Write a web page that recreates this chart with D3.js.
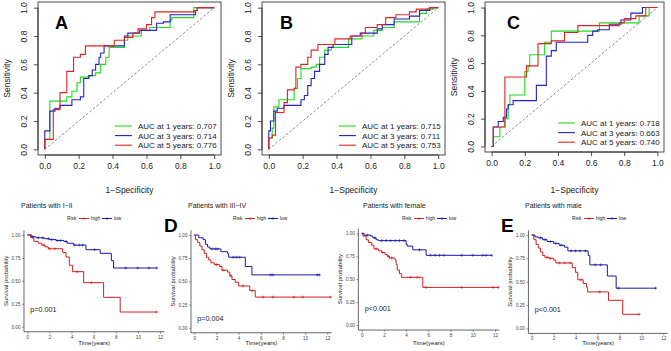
<!DOCTYPE html>
<html>
<head>
<meta charset="utf-8">
<script src="https://cdn.jsdelivr.net/npm/d3@7"></script>
<style>
  body { margin: 0; background: #fff; }
  svg { display: block; font-family: "Liberation Sans", Arial, sans-serif; }
</style>
</head>
<body>
<div id="chart"></div>
<script>
// ---- ROC data: [1-specificity, sensitivity] where the curve steps up ----
const rocTicks = [0, 0.2, 0.4, 0.6, 0.8, 1.0];
const rocYears = [1, 3, 5];

const aucA = [0.707, 0.714, 0.776];
const rocA1 = [[0,0],[0,0.07],[0.03,0.34],[0.13,0.37],[0.16,0.41],[0.19,0.47],[0.21,0.51],[0.26,0.52],[0.30,0.54],[0.33,0.60],[0.36,0.65],[0.38,0.72],[0.47,0.77],[0.49,0.80],[0.57,0.84],[0.62,0.86],[0.74,0.91],[0.75,0.93],[0.88,1.0],[1,1]];
const rocA3 = [[0,0],[0,0.13],[0.03,0.27],[0.06,0.29],[0.09,0.31],[0.16,0.35],[0.21,0.37],[0.23,0.50],[0.26,0.52],[0.28,0.56],[0.30,0.60],[0.32,0.65],[0.33,0.68],[0.35,0.73],[0.47,0.80],[0.49,0.82],[0.56,0.84],[0.66,0.89],[0.70,0.90],[0.74,0.95],[0.89,0.98],[0.90,1.0],[1,1]];
const rocA5 = [[0,0],[0,0.07],[0.05,0.28],[0.09,0.40],[0.13,0.55],[0.17,0.65],[0.21,0.67],[0.24,0.73],[0.41,0.77],[0.47,0.79],[0.52,0.82],[0.55,0.85],[0.60,0.88],[0.63,0.93],[0.65,0.97],[0.88,0.98],[0.90,1.0],[1,1]];

const aucB = [0.715, 0.711, 0.753];
const rocB1 = [[0,0],[0,0.08],[0.02,0.15],[0.03,0.30],[0.06,0.35],[0.15,0.43],[0.17,0.50],[0.19,0.57],[0.25,0.58],[0.28,0.60],[0.30,0.65],[0.33,0.70],[0.37,0.72],[0.47,0.78],[0.55,0.80],[0.62,0.84],[0.67,0.86],[0.74,0.90],[0.89,0.96],[0.93,0.99],[0.97,1.0],[1,1]];
const rocB3 = [[0,0],[0,0.13],[0.01,0.20],[0.03,0.27],[0.05,0.29],[0.09,0.31],[0.19,0.35],[0.21,0.38],[0.23,0.45],[0.25,0.50],[0.27,0.55],[0.30,0.60],[0.33,0.67],[0.35,0.72],[0.38,0.74],[0.49,0.80],[0.54,0.82],[0.64,0.85],[0.67,0.88],[0.74,0.92],[0.83,0.94],[0.89,0.98],[0.95,1.0],[1,1]];
const rocB5 = [[0,0],[0,0.08],[0.02,0.10],[0.04,0.26],[0.09,0.33],[0.11,0.42],[0.15,0.43],[0.16,0.58],[0.19,0.60],[0.23,0.65],[0.25,0.70],[0.29,0.74],[0.39,0.78],[0.48,0.80],[0.55,0.82],[0.57,0.86],[0.64,0.88],[0.69,0.93],[0.75,0.95],[0.83,0.97],[0.87,0.99],[0.95,1.0],[1,1]];

const aucC = [0.718, 0.663, 0.740];
const rocC1 = [[0,0],[0.01,0.07],[0.05,0.14],[0.08,0.20],[0.10,0.30],[0.11,0.37],[0.20,0.54],[0.22,0.58],[0.23,0.66],[0.32,0.75],[0.36,0.83],[0.65,0.89],[0.89,0.94],[0.95,1.0],[1,1]];
const rocC3 = [[0,0],[0.01,0.14],[0.04,0.18],[0.07,0.21],[0.09,0.27],[0.10,0.30],[0.13,0.33],[0.27,0.44],[0.33,0.65],[0.36,0.69],[0.39,0.75],[0.58,0.80],[0.61,0.83],[0.64,0.84],[0.71,0.88],[0.78,0.91],[0.84,0.96],[0.91,1.0],[1,1]];
const rocC5 = [[0,0],[0.01,0.14],[0.08,0.50],[0.21,0.58],[0.28,0.74],[0.36,0.76],[0.44,0.82],[0.52,0.87],[0.77,0.89],[0.80,0.92],[0.87,0.94],[0.93,1.0],[1,1]];

// ---- Kaplan-Meier data: [time, survival] steps, censor times ----
const kmTimeTicks = [0, 2, 4, 6, 8, 10, 12];
const kmSurvTicks = [0, 0.25, 0.5, 0.75, 1];
const kmGroups = ["high", "low"];

const kmEarlyHigh = [[0,1],[0.3,0.97],[0.6,0.93],[1.0,0.91],[1.3,0.89],[1.6,0.87],[1.9,0.85],[3.2,0.81],[3.5,0.76],[3.8,0.67],[4.1,0.60],[5.1,0.48],[6.9,0.32],[8.4,0.16],[11.7,0.16]];
const kmEarlyHighCens = [1.5, 2.0, 2.5, 4.5, 5.8, 11.7];
const kmEarlyLow = [[0,1],[0.4,0.98],[0.8,0.97],[1.5,0.96],[2.0,0.95],[2.6,0.94],[3.3,0.93],[3.6,0.91],[4.2,0.89],[5.3,0.84],[6.6,0.80],[7.6,0.72],[7.8,0.64],[11.7,0.64]];
const kmEarlyLowCens = [0.5, 1.0, 1.4, 1.9, 2.2, 2.7, 3.0, 3.5, 4.3, 4.7, 5.0, 6.1, 8.9, 10.0, 11.0, 11.7];

const kmLateHigh = [[0,1],[0.1,0.95],[0.3,0.92],[0.5,0.88],[0.7,0.84],[0.9,0.80],[1.1,0.76],[1.3,0.73],[1.5,0.70],[1.8,0.68],[2.3,0.66],[2.5,0.62],[3.0,0.60],[3.2,0.56],[3.4,0.52],[3.7,0.49],[4.0,0.45],[5.0,0.40],[5.5,0.33],[12.3,0.33]];
const kmLateHighCens = [2.0, 2.6, 3.3, 4.4, 5.2, 6.2, 7.1, 9.0, 9.8, 12.3];
const kmLateLow = [[0,1],[0.4,0.97],[0.8,0.95],[1.0,0.90],[1.2,0.87],[1.4,0.85],[2.4,0.82],[3.0,0.80],[3.1,0.76],[4.6,0.66],[5.2,0.57],[11.3,0.57]];
const kmLateLowCens = [1.6, 1.9, 2.1, 3.5, 3.8, 4.1, 6.9, 7.1, 11.1, 11.3];

const kmFemaleHigh = [[0,1],[0.1,0.97],[0.4,0.93],[0.6,0.90],[0.9,0.87],[1.1,0.83],[1.5,0.81],[1.8,0.79],[2.1,0.77],[2.3,0.75],[2.5,0.73],[3.0,0.71],[3.1,0.66],[3.2,0.60],[3.4,0.56],[3.6,0.52],[5.5,0.41],[12.3,0.41]];
const kmFemaleHighCens = [1.3, 1.9, 2.4, 2.7, 4.4, 5.0, 5.8, 9.0, 11.8, 12.3];
const kmFemaleLow = [[0,1],[0.2,0.98],[0.8,0.97],[1.0,0.95],[1.3,0.93],[1.5,0.92],[4.0,0.88],[4.1,0.86],[4.6,0.82],[5.8,0.76],[11.7,0.76]];
const kmFemaleLowCens = [0.5, 1.2, 1.8, 2.2, 2.6, 3.0, 3.4, 3.8, 5.2, 6.2, 6.6, 7.0, 7.4, 9.0, 10.0, 10.9, 11.2, 11.7];

const kmMaleHigh = [[0,1],[0.2,0.95],[0.4,0.90],[0.6,0.86],[0.8,0.82],[1.0,0.78],[1.2,0.76],[1.6,0.75],[2.0,0.73],[2.2,0.70],[3.7,0.65],[4.0,0.60],[4.2,0.52],[4.7,0.48],[5.0,0.44],[5.1,0.39],[7.0,0.30],[8.3,0.15],[9.8,0.15]];
const kmMaleHighCens = [1.4, 1.7, 2.5, 3.0, 3.5, 4.5, 6.2, 9.8];
const kmMaleLow = [[0,1],[0.3,0.98],[0.6,0.97],[1.0,0.95],[1.4,0.93],[2.0,0.91],[2.5,0.89],[3.0,0.87],[3.3,0.83],[5.15,0.78],[5.3,0.68],[6.9,0.56],[7.7,0.43],[11.3,0.43]];
const kmMaleLowCens = [0.8, 1.2, 1.7, 2.2, 2.7, 3.6, 4.0, 4.4, 4.9, 5.8, 6.3, 7.9, 11.3];

const kmTitles = ["Patients with I\u2212II", "Patients with III\u2212IV", "Patients with female", "Patients with male"];
const kmPvalues = ["p=0.001", "p=0.004", "p<0.001", "p<0.001"];

// ---- styles ----
const rocColors = ["#1fdc1f", "#2323c8", "#e02424"];
const kmColors = ["#d01f1f", "#1a1aa6"];

const svg = d3.select("#chart").append("svg")
  .attr("width", 671).attr("height", 351);
svg.append("rect").attr("width", 671).attr("height", 351).attr("fill", "#fff");

// ROC panel
function drawRoc(p) {
  const x = d3.scaleLinear().domain([-0.04, 1.04]).range([p.left, p.right]);
  const y = d3.scaleLinear().domain([-0.04, 1.04]).range([p.bottom, p.top]);
  const g = svg.append("g");

  g.append("line")
    .attr("x1", x(0)).attr("y1", y(0)).attr("x2", x(1)).attr("y2", y(1))
    .attr("stroke", "#555").attr("stroke-width", 0.7).attr("stroke-dasharray", "2.5,2");

  const line = d3.line().x(d => x(d[0])).y(d => y(d[1])).curve(d3.curveStepAfter);
  p.curves.forEach((c, i) => {
    g.append("path").datum(c).attr("d", line)
      .attr("fill", "none").attr("stroke", rocColors[i]).attr("stroke-width", 1.1);
  });

  g.append("rect")
    .attr("x", p.left).attr("y", p.top)
    .attr("width", p.right - p.left).attr("height", p.bottom - p.top)
    .attr("fill", "none").attr("stroke", "#222").attr("stroke-width", 0.8);

  const xa = g.append("g").attr("transform", `translate(0,${p.bottom})`)
    .call(d3.axisBottom(x).tickValues(rocTicks).tickFormat(d3.format(".1f"))
      .tickSize(4).tickSizeOuter(0).tickPadding(4));
  xa.select(".domain").attr("d", `M${x(0)},0H${x(1)}`);

  const ya = g.append("g").attr("transform", `translate(${p.left},0)`)
    .call(d3.axisLeft(y).tickValues(rocTicks).tickFormat(d3.format(".1f"))
      .tickSize(4).tickSizeOuter(0));
  ya.select(".domain").attr("d", `M0,${y(0)}V${y(1)}`);
  ya.selectAll(".tick text")
    .attr("x", 0).attr("y", 0).attr("dy", null)
    .attr("text-anchor", "middle")
    .attr("transform", "translate(-11,0) rotate(-90)");

  [xa, ya].forEach(a => {
    a.selectAll("text").attr("font-size", 8.5).attr("fill", "#222")
      .attr("font-family", "Liberation Sans, Arial, sans-serif");
    a.selectAll("line, path").attr("stroke", "#222").attr("stroke-width", 0.8);
  });

  g.append("text")
    .attr("transform", `translate(${p.left - 28},${(p.top + p.bottom) / 2}) rotate(-90)`)
    .attr("text-anchor", "middle").attr("font-size", 8.5).attr("fill", "#222")
    .text("Sensitivity");
  g.append("text")
    .attr("x", (p.left + p.right) / 2).attr("y", 193)
    .attr("text-anchor", "middle").attr("font-size", 8.5).attr("fill", "#222")
    .text("1\u2212Specificity");

  g.append("text")
    .attr("x", p.left + p.letterDx).attr("y", 29)
    .attr("font-size", 18).attr("font-weight", "bold").attr("fill", "#000")
    .text(p.letter);

  p.auc.forEach((a, i) => {
    const ly = p.bottom - 29 + i * 9.6;
    g.append("line")
      .attr("x1", p.right - 106).attr("x2", p.right - 89)
      .attr("y1", ly).attr("y2", ly)
      .attr("stroke", rocColors[i]).attr("stroke-width", 1.1);
    g.append("text")
      .attr("x", p.right - 83).attr("y", ly + 3)
      .attr("font-size", 8).attr("fill", "#222")
      .text(`AUC at ${rocYears[i]} years: ${d3.format(".3f")(a)}`);
  });
}

drawRoc({ left: 38, right: 221, top: 2, bottom: 155, letter: "A", letterDx: 17,
  curves: [rocA1, rocA3, rocA5], auc: aucA });
drawRoc({ left: 262, right: 445, top: 2, bottom: 155, letter: "B", letterDx: 18,
  curves: [rocB1, rocB3, rocB5], auc: aucB });
drawRoc({ left: 485, right: 664, top: 2, bottom: 152, letter: "C", letterDx: 22,
  curves: [rocC1, rocC3, rocC5], auc: aucC });

// Kaplan-Meier panel
function survAt(steps, t) {
  let s = steps[0][1];
  steps.forEach(d => { if (d[0] <= t) s = d[1]; });
  return s;
}

function plusPath(cx, cy, r) {
  return `M${cx - r},${cy}H${cx + r}M${cx},${cy - r}V${cy + r}`;
}

function drawKm(p) {
  const x = d3.scaleLinear().domain([0, 12]).range([p.x0, p.x12]);
  const y = d3.scaleLinear().domain([0, 1]).range([p.y0, p.y1]);
  const g = svg.append("g");

  const xa = g.append("g").attr("transform", `translate(0,${y(-0.055)})`)
    .call(d3.axisBottom(x).tickValues(kmTimeTicks).tickSize(2).tickSizeOuter(0).tickPadding(1.5));
  xa.select(".domain").attr("d", `M${x(-0.3)},0H${x(12.4)}`);
  const ya = g.append("g").attr("transform", `translate(${x(-0.3)},0)`)
    .call(d3.axisLeft(y).tickValues(kmSurvTicks).tickFormat(d3.format(".2f"))
      .tickSize(2).tickSizeOuter(0).tickPadding(1.5));
  ya.select(".domain").attr("d", `M0,${y(-0.055)}V${y(1.05)}`);
  [xa, ya].forEach(a => {
    a.selectAll("text").attr("font-size", 4.6).attr("fill", "#444")
      .attr("font-family", "Liberation Sans, Arial, sans-serif");
    a.selectAll("line").attr("stroke", "#333").attr("stroke-width", 0.5);
    a.select(".domain").attr("stroke", "#000").attr("stroke-width", 0.6);
  });

  const line = d3.line().x(d => x(d[0])).y(d => y(d[1])).curve(d3.curveStepAfter);
  p.series.forEach((s, i) => {
    g.append("path").datum(s.steps).attr("d", line)
      .attr("fill", "none").attr("stroke", kmColors[i]).attr("stroke-width", 1);
    g.selectAll(null).data(s.cens).join("path")
      .attr("d", t => plusPath(x(t), y(survAt(s.steps, t)), 1.5))
      .attr("stroke", kmColors[i]).attr("stroke-width", 0.6);
  });

  g.append("text").attr("x", p.titleX).attr("y", 207.5)
    .attr("font-size", 7).attr("fill", "#222").text(p.title);

  // legend
  g.append("text").attr("x", p.legX).attr("y", 220)
    .attr("font-size", 4.8).attr("fill", "#222").text("Risk");
  kmGroups.forEach((k, i) => {
    const lx = p.legX + 12 + i * 23;
    g.append("line").attr("x1", lx).attr("x2", lx + 10).attr("y1", 218.5).attr("y2", 218.5)
      .attr("stroke", kmColors[i]).attr("stroke-width", 1);
    g.append("path").attr("d", plusPath(lx + 5, 218.5, 1.5))
      .attr("stroke", kmColors[i]).attr("stroke-width", 0.6);
    g.append("text").attr("x", lx + 12).attr("y", 220)
      .attr("font-size", 4.8).attr("fill", "#222").text(k);
  });

  g.append("text")
    .attr("transform", `translate(${x(-0.3) - 16},${(p.y0 + p.y1) / 2}) rotate(-90)`)
    .attr("text-anchor", "middle").attr("font-size", 6).attr("fill", "#222")
    .text("Survival probability");
  g.append("text")
    .attr("x", (x(-0.3) + x(12.4)) / 2).attr("y", 345)
    .attr("text-anchor", "middle").attr("font-size", 6).attr("fill", "#222")
    .text("Time(years)");

  g.append("text").attr("x", p.x0 + 3).attr("y", p.pY)
    .attr("font-size", 7.2).attr("fill", "#222").text(p.pval);

  if (p.letter) {
    g.append("text").attr("x", p.letterX).attr("y", 232)
      .attr("font-size", 19).attr("font-weight", "bold").attr("fill", "#000")
      .text(p.letter);
  }
}

drawKm({ x0: 27.3, x12: 160, y0: 326.7, y1: 235, titleX: 21, legX: 67, pY: 312,
  title: kmTitles[0], pval: kmPvalues[0],
  series: [{ steps: kmEarlyHigh, cens: kmEarlyHighCens }, { steps: kmEarlyLow, cens: kmEarlyLowCens }] });
drawKm({ x0: 194.3, x12: 327.3, y0: 327.7, y1: 235, titleX: 188, legX: 233, pY: 321,
  title: kmTitles[1], pval: kmPvalues[1], letter: "D", letterX: 164,
  series: [{ steps: kmLateHigh, cens: kmLateHighCens }, { steps: kmLateLow, cens: kmLateLowCens }] });
drawKm({ x0: 361.7, x12: 495, y0: 325, y1: 233.3, titleX: 363, legX: 402, pY: 311,
  title: kmTitles[2], pval: kmPvalues[2],
  series: [{ steps: kmFemaleHigh, cens: kmFemaleHighCens }, { steps: kmFemaleLow, cens: kmFemaleLowCens }] });
drawKm({ x0: 531.7, x12: 663.3, y0: 328.3, y1: 235, titleX: 525, legX: 572, pY: 312,
  title: kmTitles[3], pval: kmPvalues[3], letter: "E", letterX: 501,
  series: [{ steps: kmMaleHigh, cens: kmMaleHighCens }, { steps: kmMaleLow, cens: kmMaleLowCens }] });
</script>
</body>
</html>
